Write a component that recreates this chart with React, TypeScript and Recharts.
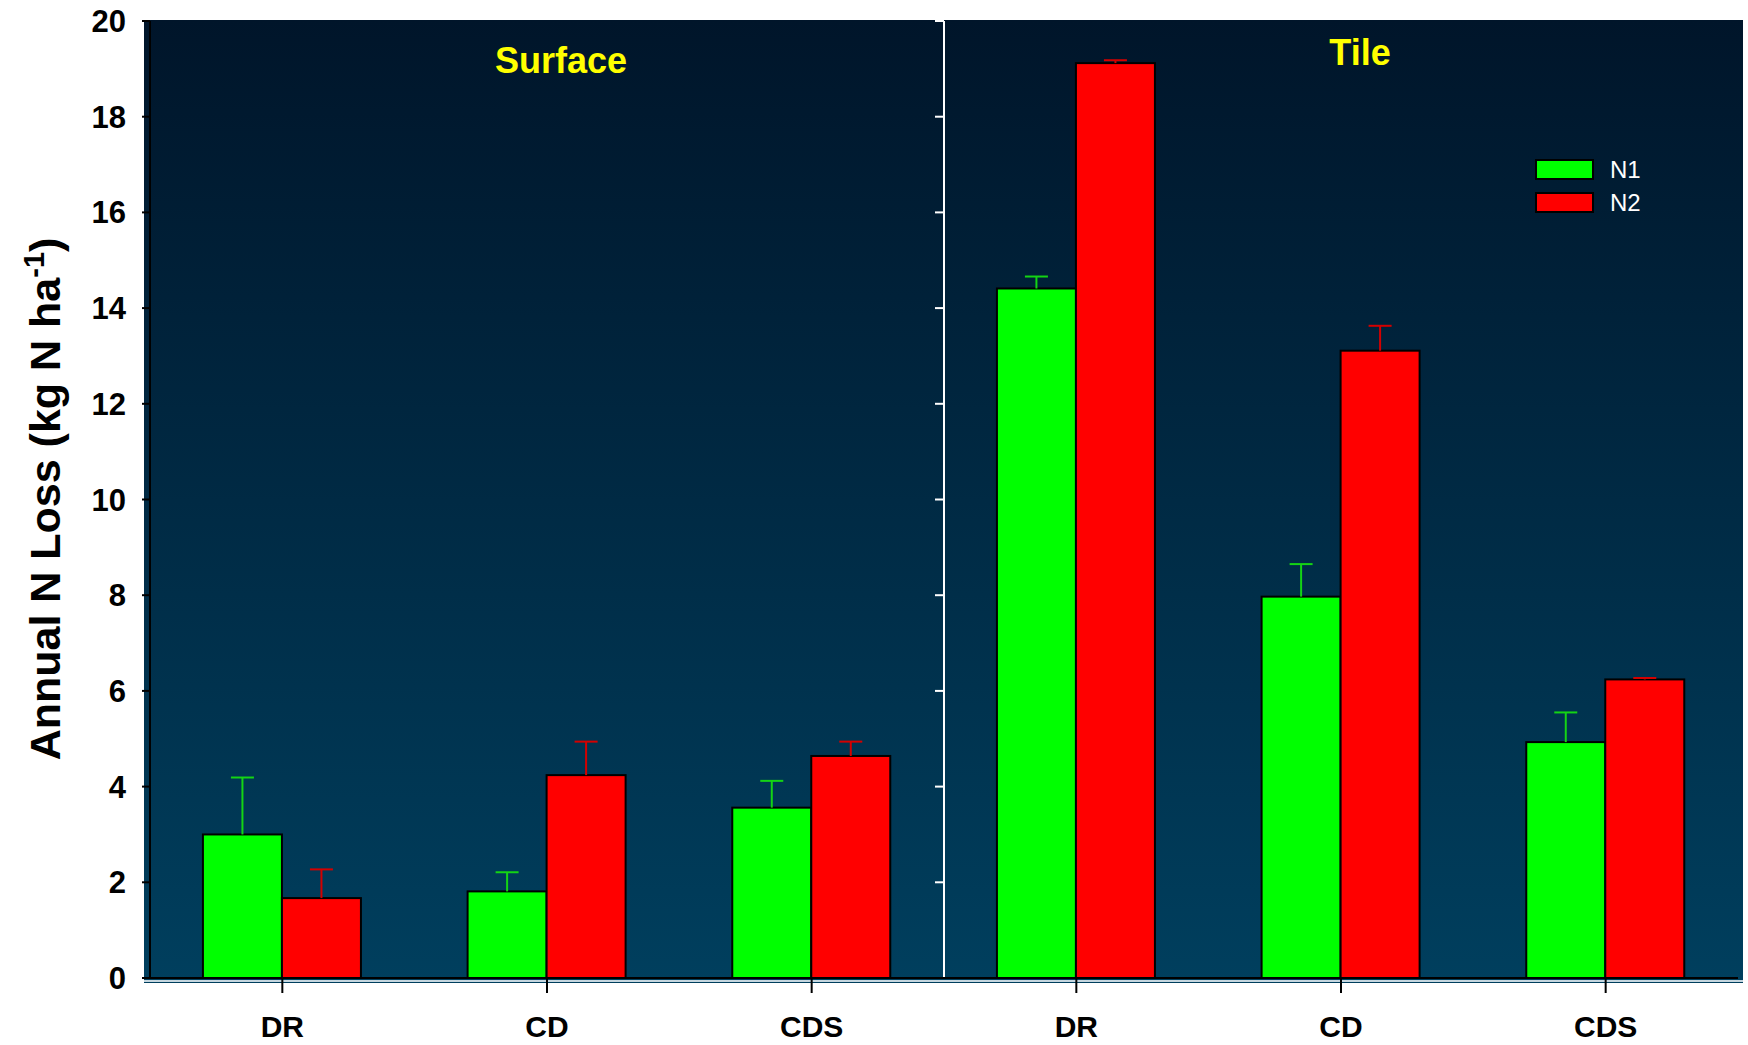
import React from "react";
import {
  BarChart,
  Bar,
  XAxis,
  YAxis,
  CartesianGrid,
  Legend,
  ReferenceLine,
} from "recharts";

const FONT = "'Liberation Sans', Arial, Helvetica, sans-serif";

const panels = ["Surface", "Tile"];
const treatments = ["DR", "CD", "CDS"];

// annual N loss (kg N/ha), mean per drainage treatment
const surfaceN1 = [3.0, 1.81, 3.56];
const surfaceN2 = [1.67, 4.24, 4.64];
const tileN1 = [14.41, 7.97, 4.93];
const tileN2 = [19.12, 13.11, 6.24];

// upper error bar length above each mean
const surfaceN1Err = [1.19, 0.4, 0.56];
const surfaceN2Err = [0.6, 0.7, 0.3];
const tileN1Err = [0.25, 0.68, 0.62];
const tileN2Err = [0.06, 0.52, 0.03];

const yTicks = [0, 2, 4, 6, 8, 10, 12, 14, 16, 18, 20];

const data = [
  ...treatments.map((t, i) => ({
    key: `${panels[0]}-${t}`,
    N1: surfaceN1[i],
    N2: surfaceN2[i],
    N1err: surfaceN1Err[i],
    N2err: surfaceN2Err[i],
  })),
  ...treatments.map((t, i) => ({
    key: `${panels[1]}-${t}`,
    N1: tileN1[i],
    N2: tileN2[i],
    N1err: tileN1Err[i],
    N2err: tileN2Err[i],
  })),
];

// bar with black outline and a one-sided (upper) error whisker
function barWithError(valueKey: string, errKey: string, errColor: string) {
  return (props: any) => {
    const { x, y, width, height, fill, payload } = props;
    const value = payload[valueKey];
    const err = payload[errKey];
    const top = y - (err * height) / value;
    const cx = x + width / 2;
    return (
      <g>
        <rect x={x} y={y} width={width} height={height} fill={fill} stroke="#000" strokeWidth={2} />
        <line x1={cx} y1={y} x2={cx} y2={top} stroke={errColor} strokeWidth={2} />
        <line x1={cx - 11.5} y1={top} x2={cx + 11.5} y2={top} stroke={errColor} strokeWidth={2} />
      </g>
    );
  };
}

// white panel divider with its own left-pointing ticks
const PanelDivider = (props: any) => {
  const { x1, y1, y2 } = props;
  const top = Math.min(y1, y2);
  const bottom = Math.max(y1, y2);
  const yMax = yTicks[yTicks.length - 1];
  return (
    <g>
      <line x1={x1} y1={top} x2={x1} y2={bottom} stroke="#fff" strokeWidth={2} />
      {yTicks.map((v) => {
        const ty = bottom - ((bottom - top) * v) / yMax;
        return <line key={v} x1={x1 - 9} y1={ty} x2={x1} y2={ty} stroke="#fff" strokeWidth={2} />;
      })}
    </g>
  );
};

const BaseLine = (props: any) => {
  const { x1, x2, y1 } = props;
  return <line x1={Math.min(x1, x2) - 6} x2={Math.max(x1, x2) + 5} y1={y1 + 3} y2={y1 + 3} stroke="#c5d6df" strokeWidth={2} />;
};

const renderLegend = (props: any) => (
  <div style={{ fontFamily: FONT }}>
    {(props.payload || []).map((entry: any) => (
      <div key={entry.value} style={{ display: "flex", alignItems: "center", height: 33 }}>
        <span
          style={{
            display: "inline-block",
            width: 59,
            height: 21,
            background: entry.color,
            border: "2px solid #000",
            boxSizing: "border-box",
          }}
        />
        <span style={{ marginLeft: 16, color: "#fff", fontSize: 24 }}>{entry.value}</span>
      </div>
    ))}
  </div>
);

export default function App() {
  return (
    <div style={{ position: "absolute", left: 0, top: 0, width: 1748, height: 1045, background: "#fff" }}>
      <BarChart
        width={1748}
        height={1045}
        data={data}
        margin={{ top: 21, right: 10, left: 0, bottom: 0 }}
        barCategoryGap="20%"
        barGap={0}
      >
        <defs>
          <linearGradient id="panelBg" x1="0" y1="0" x2="0" y2="1">
            <stop offset="0%" stopColor="#00152a" />
            <stop offset="100%" stopColor="#003f5e" />
          </linearGradient>
        </defs>
        <CartesianGrid
          x={144}
          y={20}
          width={1599}
          height={963}
          fill="url(#panelBg)"
          horizontal={false}
          vertical={false}
        />
        <XAxis
          dataKey="key"
          height={67}
          tickFormatter={(v: string) => v.split("-")[1]}
          tickSize={15}
          tickMargin={23}
          tick={{ fill: "#000", fontSize: 30, fontWeight: "bold", fontFamily: FONT }}
          tickLine={{ stroke: "#000", strokeWidth: 2 }}
          axisLine={{ stroke: "#000", strokeWidth: 2 }}
          interval={0}
        />
        <YAxis
          width={150}
          domain={[0, 20]}
          ticks={yTicks}
          interval={0}
          tickSize={8}
          tickMargin={16}
          tick={{ fill: "#000", fontSize: 31, fontWeight: "bold", fontFamily: FONT }}
          tickLine={{ stroke: "#000", strokeWidth: 2 }}
          axisLine={{ stroke: "#000", strokeWidth: 2 }}
        />
        <ReferenceLine y={0} shape={BaseLine} />
        <ReferenceLine x="Tile-DR" position="start" shape={PanelDivider} />
        <ReferenceLine x="Tile-CDS" position="end" stroke="#fff" strokeWidth={2} />
        <Legend
          layout="vertical"
          align="center"
          verticalAlign="middle"
          wrapperStyle={{ top: 153, left: 1535, width: 120 }}
          content={renderLegend}
        />
        <Bar
          dataKey="N1"
          name="N1"
          fill="#00ff00"
          isAnimationActive={false}
          shape={barWithError("N1", "N1err", "#14d414")}
        />
        <Bar
          dataKey="N2"
          name="N2"
          fill="#ff0000"
          isAnimationActive={false}
          shape={barWithError("N2", "N2err", "#d40000")}
        />
      </BarChart>
      <svg
        width={1748}
        height={1045}
        style={{ position: "absolute", left: 0, top: 0, pointerEvents: "none" }}
      >
        <text x={561} y={73} textAnchor="middle" fill="#ffff00" fontSize={36} fontWeight="bold" fontFamily={FONT}>
          {panels[0]}
        </text>
        <text x={1360} y={65} textAnchor="middle" fill="#ffff00" fontSize={36} fontWeight="bold" fontFamily={FONT}>
          {panels[1]}
        </text>
        <text
          x={60}
          y={499}
          transform="rotate(-90, 60, 499)"
          textAnchor="middle"
          fill="#000"
          fontSize={43}
          fontWeight="bold"
          fontFamily={FONT}
        >
          Annual N Loss (kg N ha
          <tspan fontSize={29} dy={-16}>-1</tspan>
          <tspan dy={16}>)</tspan>
        </text>
      </svg>
    </div>
  );
}
